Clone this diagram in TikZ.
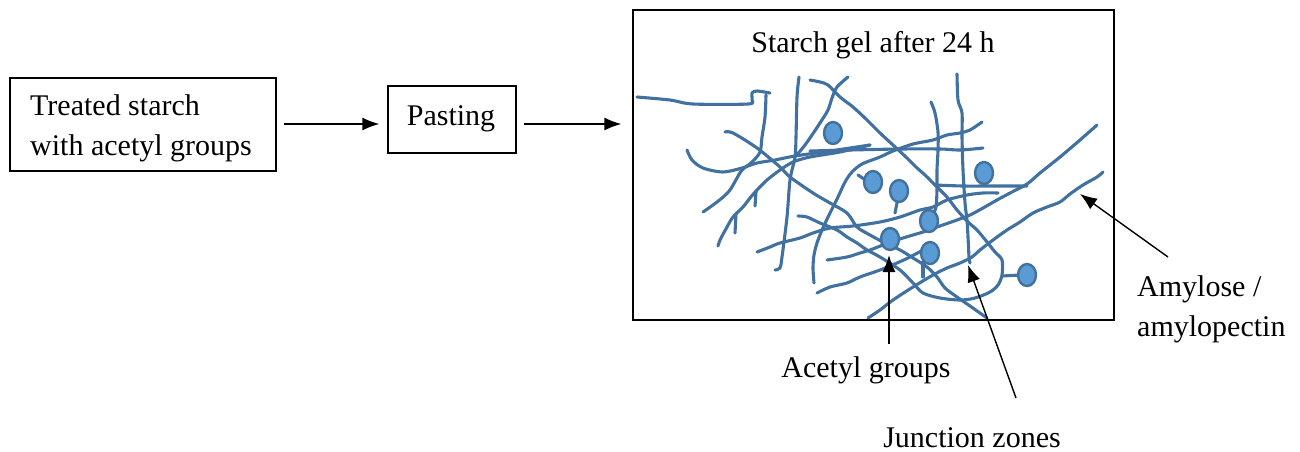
\documentclass[tikz,border=0pt]{standalone}
\usepackage{fontspec}
\setmainfont{Liberation Serif}
\usetikzlibrary{arrows.meta,shapes.geometric}
\definecolor{chain}{RGB}{65,113,160}
\definecolor{acfill}{RGB}{91,155,213}
\definecolor{acedge}{RGB}{65,113,156}
\tikzset{
  boxed/.style={draw, line width=1.3pt, inner sep=0pt},
  lbl/.style={font=\fontsize{30}{40}\selectfont, inner sep=0pt},
  arr/.style={line width=1.4pt, -{Latex[length=17pt,width=13pt]}},
  strand/.style={chain, line width=3.1pt, line cap=round, line join=round},
  acetyl/.style={ellipse, draw=acedge, fill=acfill, line width=2.4pt,
                 minimum width=18pt, minimum height=22pt, inner sep=0pt},
}
\begin{document}
\begin{tikzpicture}[x=1pt,y=-1pt]
\useasboundingbox (0,0) rectangle (1300,451);

% flow boxes
\node[boxed, minimum width=266pt, minimum height=93pt] (treated) at (143,124.5) {};
\node[lbl, anchor=base west, align=left] (treatedtxt) at (30,155)
  {Treated starch\\with acetyl groups};
\node[boxed, minimum width=128pt, minimum height=67pt] (pasting) at (452,119.5) {};
\node[lbl, anchor=base] (pastingtxt) at (451,125) {Pasting};
\node[boxed, minimum width=481pt, minimum height=310pt] (gel) at (873.5,165) {};
\node[lbl, anchor=base] (geltitle) at (873,52) {Starch gel after 24 h};

\coordinate (flowrow) at (0,124);
\draw[arr, shorten <=7pt, shorten >=8pt] (treated.east |- flowrow) -- (pasting.west |- flowrow);
\draw[arr, shorten <=7pt, shorten >=11pt] (pasting.east |- flowrow) -- (gel.west |- flowrow);

% polymer chains
\draw[strand] plot[smooth, tension=0.5] coordinates {(637,97) (670,100) (693,104) (748,104) (752,100) (752,93) (757,91) (770,93)};
\draw[strand] plot[smooth, tension=0.5] coordinates {(766,95) (765,117) (762,137) (760,152) (752,162) (742,170) (737,178) (730,190) (722,198) (713,205) (703,212)};
\draw[strand] plot[smooth, tension=0.5] coordinates {(870,145) (840,152) (810,157) (793,162) (780,170) (767,180) (757,190) (750,198) (743,207) (733,217) (727,227) (720,240) (718,246)};
\draw[strand] (756,192) -- (755,206);
\draw[strand] (736,214) -- (735,233);
\draw[strand] plot[smooth, tension=0.5] coordinates {(687,150) (692,160) (703,168) (723,172) (742,168) (757,163) (775,160) (795,156) (830,151) (850,148) (870,145)};
\draw[strand] plot[smooth, tension=0.5] coordinates {(810,151) (850,150) (900,149) (940,149) (960,150) (983,148)};
\draw[strand] plot[smooth, tension=0.5] coordinates {(725,132) (733,133) (757,148) (780,167) (790,177) (813,193) (830,203) (847,213) (857,227) (870,235) (883,242) (900,250) (913,258) (927,267) (937,277) (945,288) (957,297) (970,306) (987,318)};
\draw[strand] plot[smooth, tension=0.5] coordinates {(799,77) (797,97) (796,137) (795,157) (790,180) (787,217) (782,257) (780,268) (775,270)};
\draw[strand] plot[smooth, tension=0.5] coordinates {(848,77) (837,87) (832,98) (828,110) (820,123) (812,135) (805,145) (796,156)};
\draw[strand] plot[smooth, tension=0.5] coordinates {(810,80) (820,82) (828,85) (840,97) (853,107) (867,120) (880,133) (893,145) (907,158) (917,168) (925,175) (935,185) (947,197) (957,210) (968,222) (977,230) (987,242) (995,252) (1002,260) (1002,275) (998,285) (990,292) (975,298) (960,300) (940,298) (923,293) (913,283) (900,270) (880,257) (867,250) (857,243) (847,237) (837,230) (820,223) (807,217) (798,216)};
\draw[strand] plot[smooth, tension=0.5] coordinates {(935,185) (963,186) (990,186) (1027,186)};
\draw[strand] plot[smooth, tension=0.5] coordinates {(931,102) (935,113) (938,132) (938,150) (937,170) (937,190) (936,207) (933,214)};
\draw[strand] plot[smooth, tension=0.5] coordinates {(957,74) (958,100) (962,113) (962,137) (963,170) (965,203) (967,220) (968,237) (969,257) (970,263)};
\draw[strand] plot[smooth, tension=0.5] coordinates {(814,283) (813,268) (814,255) (817,243) (822,230) (830,213) (838,197) (845,182) (852,172) (862,164) (880,157) (893,151) (913,144) (933,140) (947,135) (960,133) (970,130) (982,122)};
\draw[strand] plot[smooth, tension=0.5] coordinates {(757,252) (770,247) (780,243) (800,238) (813,233) (830,228) (853,226) (880,222) (900,217) (920,210) (933,207) (947,200) (967,195) (983,193) (998,193)};
\draw[strand] plot[smooth, tension=0.5] coordinates {(827,260) (847,257) (860,253) (870,250) (883,245) (903,238) (923,232) (937,227) (957,220) (970,215) (983,208) (997,200) (1010,193) (1027,184) (1040,173) (1060,157) (1080,140) (1097,125)};
\draw[strand] plot[smooth, tension=0.5] coordinates {(868,318) (880,310) (893,300) (913,287) (933,275) (947,268) (960,263) (972,257) (980,250) (993,240) (1007,230) (1020,222) (1033,213) (1047,207) (1060,202) (1070,194) (1083,185) (1097,177) (1103,172)};
\draw[strand] plot[smooth, tension=0.5] coordinates {(817,293) (830,287) (847,283) (860,277) (880,270) (897,263) (910,257) (923,250)};
% side stubs
\draw[strand] (858,175) -- (870,183);
\draw[strand] (898,198) -- (895,213);
\draw[strand] (923,262) -- (923,277);
\draw[strand] (1002,276) -- (1020,275);

% acetyl groups
\node[acetyl] (ac1) at (833,133) {};
\node[acetyl] (ac2) at (873,182) {};
\node[acetyl] (ac3) at (899,191) {};
\node[acetyl] (ac4) at (984,173) {};
\node[acetyl] (ac5) at (929,221) {};
\node[acetyl] (ac6) at (890,239) {};
\node[acetyl] (ac7) at (930,253) {};
\node[acetyl] (ac8) at (1027,275) {};

% labels and pointers
\node[lbl, anchor=base] (acetyllbl) at (866,377) {Acetyl groups};
\node[lbl, anchor=base] (junctionlbl) at (972,447) {Junction zones};
\node[lbl, anchor=base west, align=left] (amyloselbl) at (1137,336) {Amylose /\\amylopectin};

\coordinate (acetylTip) at (889,255);
\draw[arr, shorten <=12pt] (acetylTip |- acetyllbl.north) -- (acetylTip);
\coordinate (jzTail) at (1016,398);
\coordinate (jzTip) at (968,265);
\draw[arr] (jzTail) -- (jzTip);
\coordinate (amTail) at (1168,257);
\coordinate (amTip) at (1080,194);
\draw[arr] (amTail) -- (amTip);
\end{tikzpicture}
\end{document}
